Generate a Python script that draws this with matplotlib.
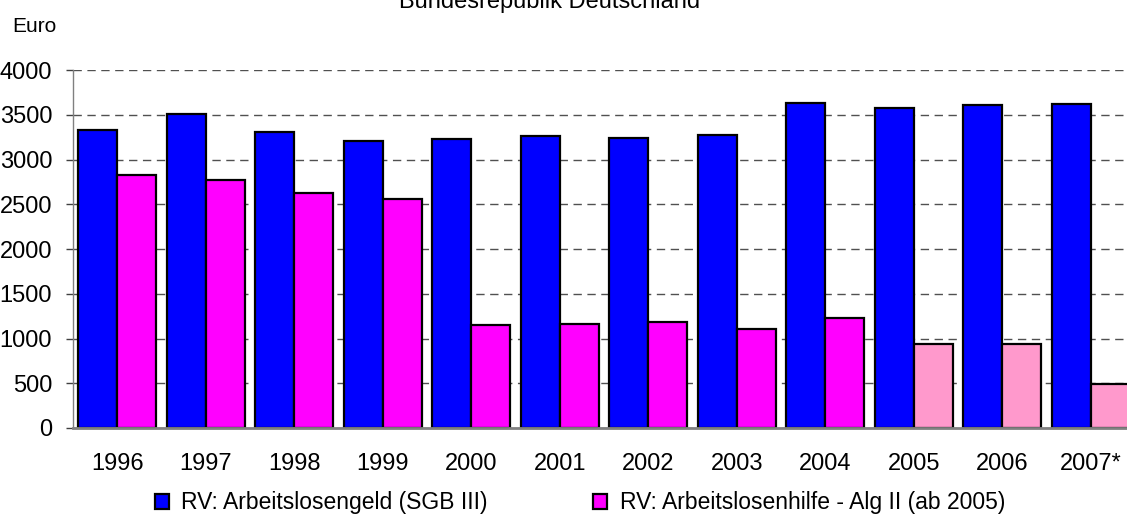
import numpy as np
import matplotlib
matplotlib.use('Agg')
import matplotlib.pyplot as plt
from matplotlib.patches import Patch

plt.rcParams['font.family'] = ['Liberation Sans', 'DejaVu Sans']

# Daten
jahre = ['1996', '1997', '1998', '1999', '2000', '2001',
         '2002', '2003', '2004', '2005', '2006', '2007*']
alg = [3326, 3505, 3311, 3207, 3231, 3258, 3240, 3277, 3628, 3573, 3610, 3621]
alh = [2822, 2774, 2625, 2558, 1149, 1167, 1182, 1104, 1227, 936, 936, 490]

blau = '#0000FF'
magenta = '#FF00FF'
rosa = '#FF99CC'
alh_farben = [rosa if j >= '2005' else magenta for j in jahre]

fig = plt.figure(figsize=(11.27, 5.14), dpi=100)
ax = fig.add_axes([73 / 1127, 86 / 514, 1062 / 1127, 358 / 514])

x = np.arange(len(jahre))
w = 0.44
ax.bar(x - w / 2, alg, width=w, color=blau, edgecolor='black', linewidth=1.6, zorder=3)
ax.bar(x + w / 2, alh, width=w, color=alh_farben, edgecolor='black', linewidth=1.6, zorder=3)

ax.set_xlim(-0.5, len(jahre) - 0.5)
ax.set_ylim(0, 4000)
ax.set_yticks(np.arange(0, 4001, 500))
ax.set_xticks(x)
ax.set_xticklabels(jahre)
ax.tick_params(axis='y', labelsize=17, length=5, width=1, color='#404040', pad=10)
ax.tick_params(axis='x', labelsize=17, length=0, pad=18)
ax.yaxis.grid(True, color='#505050', linestyle=(0, (6, 4)), linewidth=1, zorder=0)

for s in ['top', 'right']:
    ax.spines[s].set_visible(False)
ax.spines['left'].set_color('#808080')
ax.spines['left'].set_linewidth(1)
ax.spines['bottom'].set_color('#808080')
ax.spines['bottom'].set_linewidth(2)
ax.spines['bottom'].set_zorder(4)

fig.text(550 / 1127, 1 - 8 / 514, 'Bundesrepublik Deutschland',
         ha='center', va='baseline', fontsize=17)
fig.text(12 / 1127, 1 - 32 / 514, 'Euro', ha='left', va='baseline', fontsize=15)

handles = [Patch(facecolor=blau, edgecolor='black', linewidth=1.6),
           Patch(facecolor=magenta, edgecolor='black', linewidth=1.6)]
fig.legend(handles, ['RV: Arbeitslosengeld (SGB III)',
                     'RV: Arbeitslosenhilfe - Alg II (ab 2005)'],
           loc='center left', bbox_to_anchor=(155 / 1127, 1 - 503 / 514),
           ncol=2, frameon=False, fontsize=16.5, handlelength=0.6, handleheight=0.6,
           handletextpad=0.55, columnspacing=4.6, borderaxespad=0, borderpad=0)

fig.savefig('out.png', dpi=100)
